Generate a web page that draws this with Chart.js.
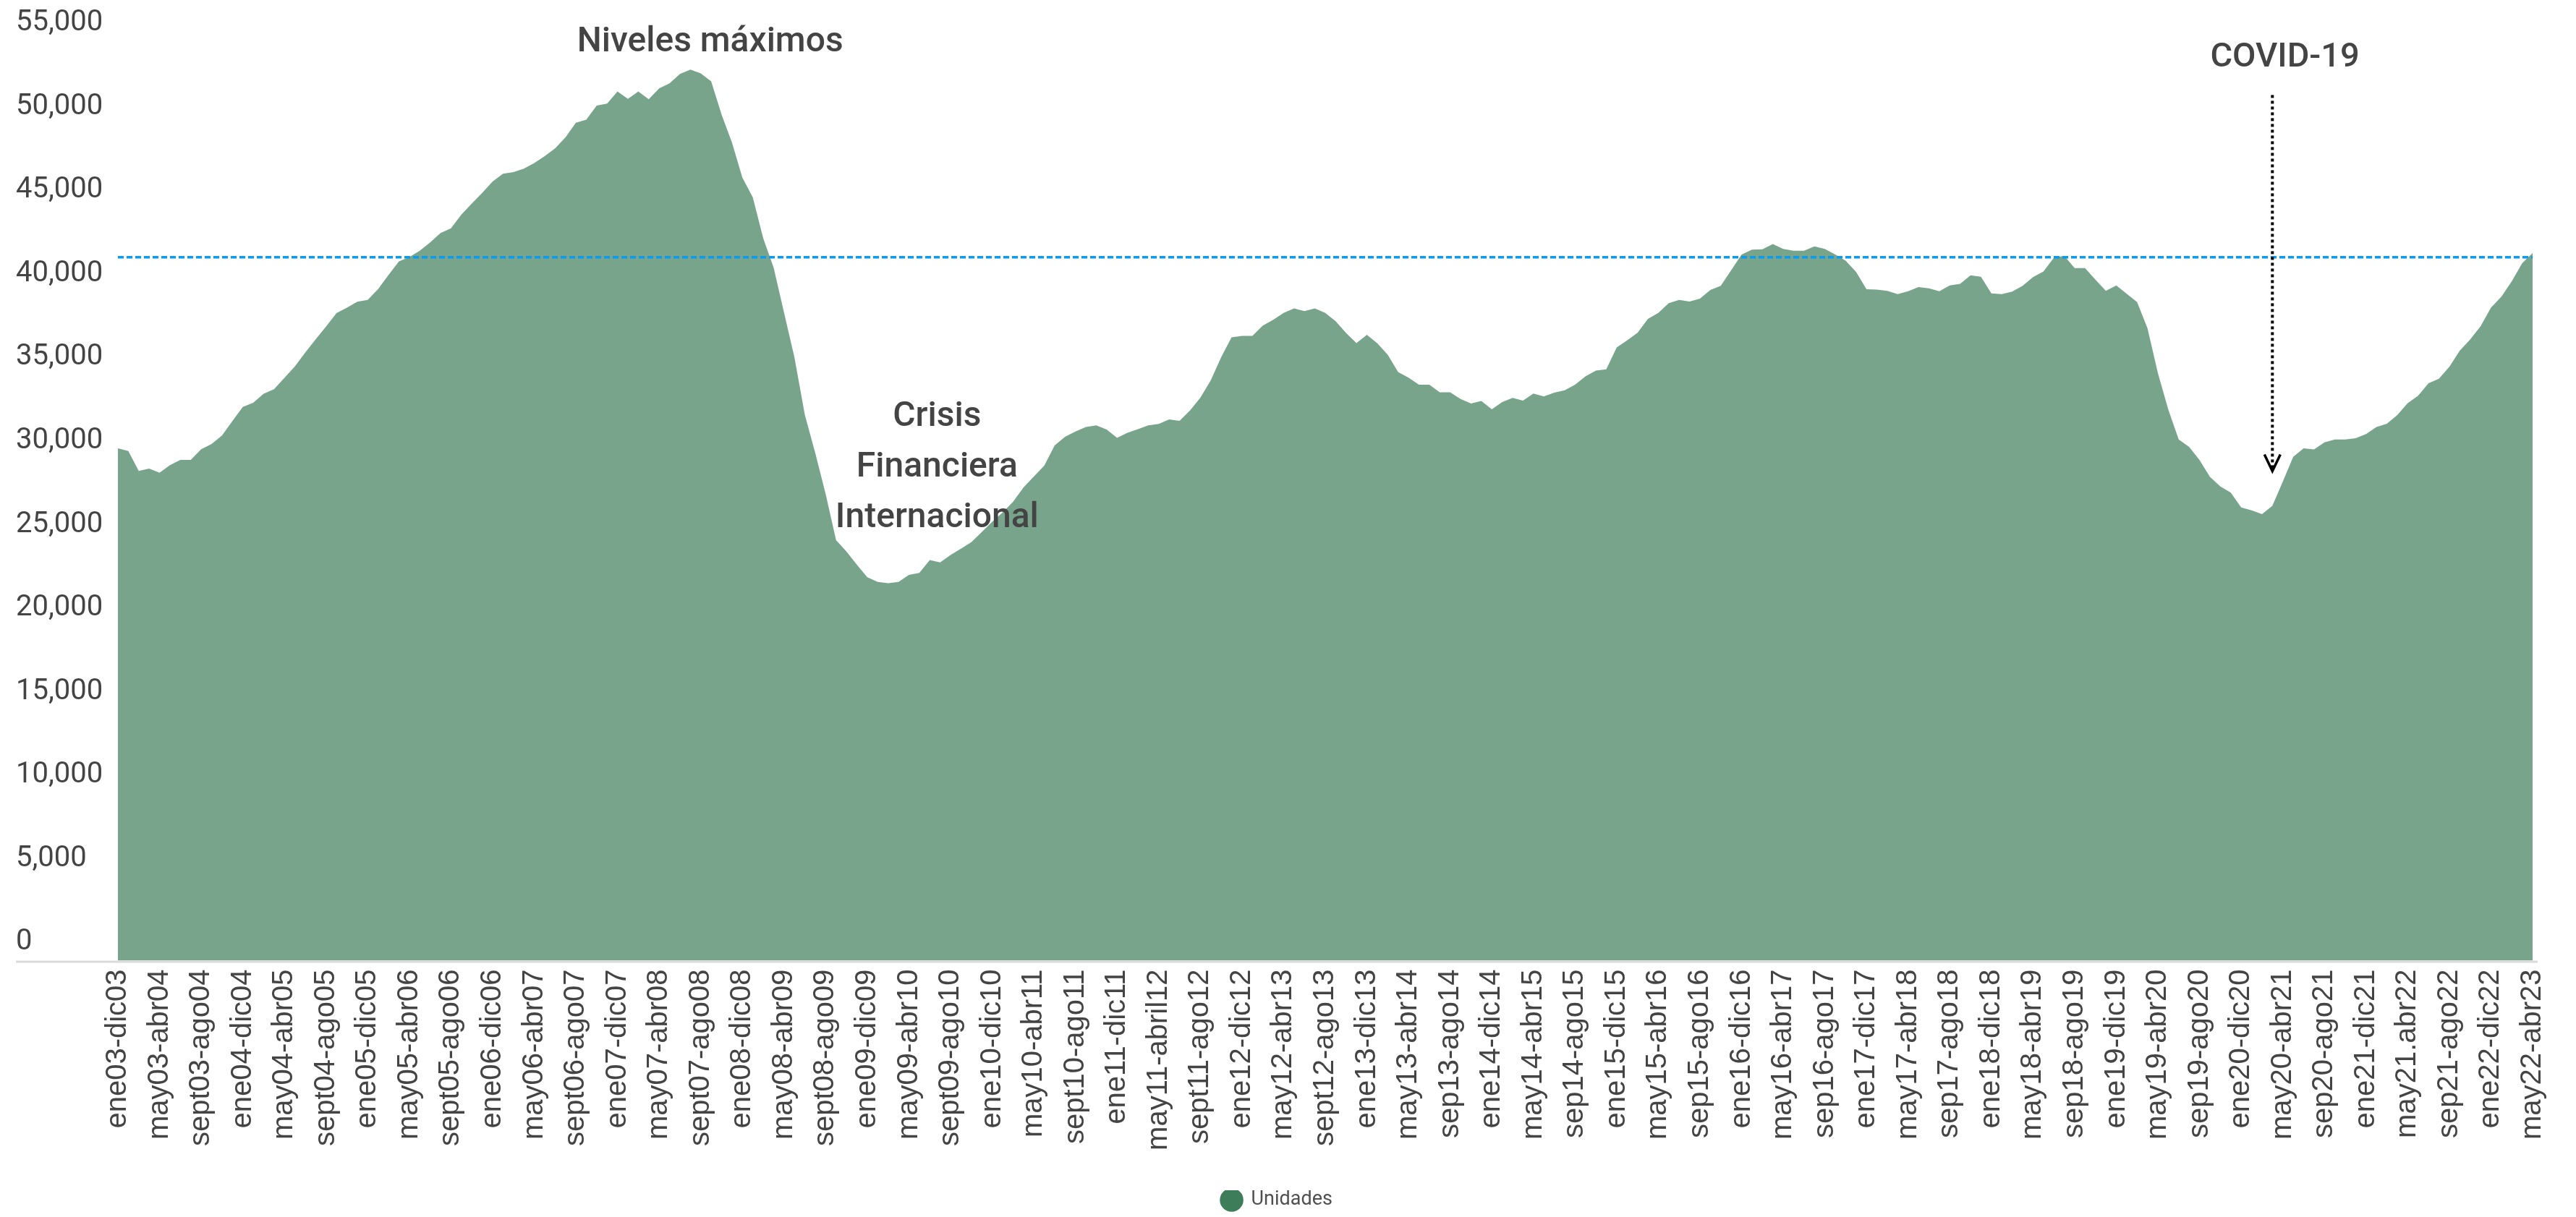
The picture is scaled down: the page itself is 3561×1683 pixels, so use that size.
<!DOCTYPE html>
<html lang="es">
<head>
<meta charset="utf-8">
<title>Unidades</title>
<script src="https://cdn.jsdelivr.net/npm/chart.js@4.4.1/dist/chart.umd.min.js"></script>
<style>
  html, body { margin: 0; padding: 0; background: #ffffff; }
  #wrap { width: 3561px; height: 1683px; position: relative; }
  canvas { display: block; }
</style>
</head>
<body>
<div id="wrap"><canvas id="c" width="3561" height="1683"></canvas></div>
<script>
// ---- Tick labels shown on the x axis (one every 4 months) ----
const tickLabels = [
  'ene03-dic03','may03-abr04','sept03-ago04','ene04-dic04','may04-abr05','sept04-ago05',
  'ene05-dic05','may05-abr06','sept05-ago06','ene06-dic06','may06-abr07','sept06-ago07',
  'ene07-dic07','may07-abr08','sept07-ago08','ene08-dic08','may08-abr09','sept08-ago09',
  'ene09-dic09','may09-abr10','sept09-ago10','ene10-dic10','may10-abr11','sept10-ago11',
  'ene11-dic11','may11-abril12','sept11-ago12','ene12-dic12','may12-abr13','sept12-ago13',
  'ene13-dic13','may13-abr14','sep13-ago14','ene14-dic14','may14-abr15','sep14-ago15',
  'ene15-dic15','may15-abr16','sep15-ago16','ene16-dic16','may16-abr17','sep16-ago17',
  'ene17-dic17','may17-abr18','sep17-ago18','ene18-dic18','may18-abr19','sep18-ago19',
  'ene19-dic19','may19-abr20','sep19-ago20','ene20-dic20','may20-abr21','sep20-ago21',
  'ene21-dic21','may21.abr22','sep21-ago22','ene22-dic22','may22-abr23'
];

// ---- Rolling 12-month totals (Unidades), monthly, dic03 ... abr23 ----
const unidades = [
  29570,29400,28210,28350,28100,28560,28870,28870,29510,29820,
  30330,31200,32040,32290,32830,33100,33780,34460,35300,36090,
  36850,37650,37980,38330,38440,39090,39940,40750,41010,41390,
  41880,42440,42730,43550,44210,44850,45530,45990,46090,46290,
  46630,47040,47510,48170,49040,49230,50070,50190,50910,50470,
  50910,50450,51100,51400,51960,52220,51990,51520,49530,47850,
  45750,44580,42130,40380,37690,35000,31570,29280,26830,24070,
  23390,22600,21850,21570,21500,21570,21990,22110,22880,22740,
  23180,23560,23950,24560,25170,25730,26360,27220,27880,28530,
  29740,30260,30570,30840,30940,30690,30190,30500,30710,30940,
  31030,31290,31210,31830,32590,33630,35020,36210,36290,36290,
  36910,37250,37670,37930,37770,37930,37670,37170,36460,35860,
  36360,35850,35170,34130,33790,33370,33370,32920,32920,32520,
  32250,32400,31900,32330,32580,32420,32840,32670,32900,33040,
  33370,33870,34210,34290,35600,36020,36480,37310,37670,38250,
  38440,38350,38520,39040,39290,40220,41160,41450,41470,41790,
  41490,41390,41390,41640,41490,41160,40790,40120,39080,39060,
  38980,38790,38960,39210,39140,38960,39310,39410,39910,39830,
  38830,38790,38940,39290,39810,40140,40960,41080,40350,40350,
  39660,38980,39310,38810,38310,36750,34060,31880,30090,29650,
  28860,27860,27280,26920,26030,25860,25630,26130,27570,29060,
  29570,29500,29920,30090,30090,30170,30420,30840,31040,31550,
  32270,32710,33460,33730,34440,35410,36080,36870,37980,38640,
  39560,40640,41240
];

// Category for each month: named every 4th month, as on the original axis
const categories = unidades.map((_, i) => (i % 4 === 0 ? tickLabels[i / 4] : ''));

// ---- Y axis tick values ----
const yTicks = [0, 5000, 10000, 15000, 20000, 25000, 30000, 35000, 40000, 45000, 50000, 55000];

// ---- Reference level and annotations ----
const nivelReferencia = 41000;
const covidIndex = 207;                 // month the arrow points to
const covidArrowFrom = 50700, covidArrowTo = 28200;
const annotations = [
  { lines: ['Niveles máximos'], index: 56.9, value: 53300, font: '500 48px Roboto' },
  { lines: ['Crisis', 'Financiera', 'Internacional'], index: 78.7, value: 30900, font: '500 48px Roboto', lineGap: 70 },
  { lines: ['COVID-19'], index: 208.2, value: 52410, font: '500 47px Roboto' }
];

const X_FONT = { family: 'Liberation Sans', size: 40 };

const extrasPlugin = {
  id: 'extras',
  afterDatasetsDraw(chart) {
    const { ctx, chartArea, scales: { x, y } } = chart;
    ctx.save();
    // x axis base line
    ctx.strokeStyle = '#d9d9d9';
    ctx.lineWidth = 3;
    ctx.setLineDash([]);
    ctx.beginPath();
    ctx.moveTo(22, chartArea.bottom + 1.5);
    ctx.lineTo(chartArea.right + 7, chartArea.bottom + 1.5);
    ctx.stroke();

    // dashed reference line
    const yRef = y.getPixelForValue(nivelReferencia);
    ctx.strokeStyle = '#0a9bef';
    ctx.lineWidth = 3.5;
    ctx.setLineDash([8, 4]);
    ctx.beginPath();
    ctx.moveTo(chartArea.left, yRef);
    ctx.lineTo(chartArea.right, yRef);
    ctx.stroke();

    // COVID arrow
    const ax = x.getPixelForValue(covidIndex);
    const ay0 = y.getPixelForValue(covidArrowFrom);
    const ay1 = y.getPixelForValue(covidArrowTo);
    ctx.strokeStyle = '#000000';
    ctx.lineWidth = 4;
    ctx.setLineDash([4, 4]);
    ctx.beginPath();
    ctx.moveTo(ax, ay0);
    ctx.lineTo(ax, ay1 - 4);
    ctx.stroke();
    ctx.setLineDash([]);
    ctx.lineWidth = 3.5;
    ctx.beginPath();
    ctx.moveTo(ax - 11, ay1 - 23);
    ctx.lineTo(ax, ay1);
    ctx.lineTo(ax + 11, ay1 - 23);
    ctx.stroke();

    // annotation texts
    ctx.fillStyle = '#444444';
    ctx.textAlign = 'center';
    ctx.textBaseline = 'alphabetic';
    annotations.forEach(a => {
      ctx.font = a.font;
      const cx = x.getPixelForValue(a.index);
      const by = y.getPixelForValue(a.value);
      a.lines.forEach((t, k) => ctx.fillText(t, cx, by + k * (a.lineGap || 0)));
    });
    ctx.restore();
  }
};

function draw() {
  Chart.defaults.font.family = 'Roboto';
  new Chart(document.getElementById('c'), {
    type: 'line',
    data: {
      labels: categories,
      datasets: [{
        label: 'Unidades',
        data: unidades,
        fill: 'start',
        backgroundColor: '#78a48c',
        borderWidth: 0,
        borderColor: 'rgba(0,0,0,0)',
        pointRadius: 0,
        pointHoverRadius: 0,
        tension: 0
      }]
    },
    options: {
      responsive: false,
      animation: false,
      events: [],
      layout: { padding: { left: 22, top: 32, right: 52, bottom: 0 } },
      plugins: {
        tooltip: { enabled: false },
        legend: {
          position: 'bottom',
          labels: {
            usePointStyle: true,
            pointStyle: 'circle',
            boxHeight: 23,
            padding: 0,
            color: '#505050',
            font: { family: 'Roboto', size: 27 },
            generateLabels: () => [{
              text: 'Unidades', fillStyle: '#3e7d5a', strokeStyle: '#3e7d5a',
              lineWidth: 0, pointStyle: 'circle', hidden: false, datasetIndex: 0, fontColor: '#505050'
            }]
          }
        }
      },
      scales: {
        x: {
          type: 'category',
          offset: false,
          grid: { display: false, drawTicks: false },
          border: { display: false },
          ticks: {
            autoSkip: false,
            minRotation: 90,
            maxRotation: 90,
            padding: 12,
            color: '#444444',
            font: X_FONT
          },
          afterFit: s => { s.height = 317.6; }
        },
        y: {
          min: -1078,
          max: 55000,
          grid: { display: false, drawTicks: false },
          border: { display: false },
          ticks: {
            crossAlign: 'far',
            color: '#444444',
            font: { family: 'Roboto', size: 40 },
            callback: v => Number(v).toLocaleString('en-US')
          },
          afterBuildTicks: s => { s.ticks = yTicks.map(v => ({ value: v })); },
          afterFit: s => { s.width = 141; }
        }
      }
    },
    plugins: [extrasPlugin]
  });
}

const fontLoads = [
  '40px Roboto', '500 48px Roboto', '27px Roboto', '40px "Liberation Sans"'
].map(f => (document.fonts && document.fonts.load ? document.fonts.load(f).catch(() => null) : Promise.resolve()));
Promise.all(fontLoads).then(draw, draw);
</script>
</body>
</html>
